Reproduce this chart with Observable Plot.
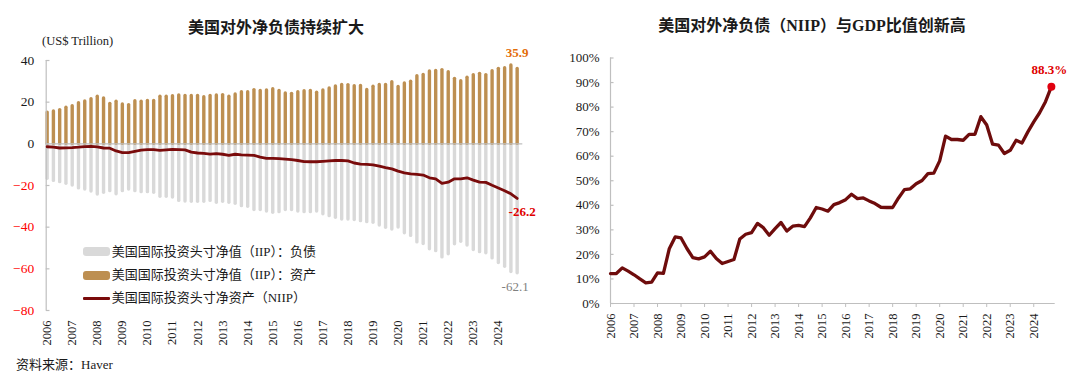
<!DOCTYPE html>
<html><head><meta charset="utf-8">
<script src="https://cdn.jsdelivr.net/npm/d3@7"></script>
<script src="https://cdn.jsdelivr.net/npm/@observablehq/plot@0.6"></script>
<style>
body{margin:0;background:#fff;}
#wrap{position:relative;width:1080px;height:386px;overflow:hidden;font-family:"Liberation Serif","Noto Sans CJK SC",serif;color:#1a1a1a;}
.abs{position:absolute;white-space:nowrap;}
.title{font-size:16px;font-weight:bold;text-align:center;line-height:18px;height:18px;}
.leg{font-size:13px;line-height:16px;height:16px;}
.sw{position:absolute;}
</style></head><body><div id="wrap"></div>
<script>
// ---- data ----
const years = ["2006","2007","2008","2009","2010","2011","2012","2013","2014","2015","2016","2017","2018","2019","2020","2021","2022","2023","2024"];
// quarterly, 2006Q1 - 2024Q4, US$ trillion
const assets = [15.0,15.5,16.2,17.3,18.1,19.5,20.3,21.4,22.6,21.8,19.2,20.2,18.9,18.6,20.5,20.2,20.6,20.6,22.6,22.6,
  22.9,23.2,23.0,23.0,23.0,22.4,23.0,23.2,23.4,22.6,23.7,24.8,24.8,25.8,25.4,25.6,26.2,25.4,24.2,24.0,
  24.8,25.3,25.4,24.5,25.6,26.6,27.5,28.3,28.2,27.7,27.8,25.9,27.4,28.3,28.3,29.6,27.3,29.0,29.8,32.5,
  33.1,34.7,35.0,35.4,34.4,31.2,30.1,31.7,33.0,33.6,33.0,34.9,36.0,36.3,37.6,35.9];
const liabilities = [-16.8,-17.8,-18.4,-19.2,-20.0,-21.4,-21.9,-22.9,-24.3,-23.5,-22.7,-24.2,-22.7,-21.9,-22.7,-23.2,-23.2,-23.5,-25.4,-25.4,
  -25.8,-27.4,-27.7,-27.8,-27.8,-27.8,-27.4,-28.3,-27.8,-28.3,-28.8,-29.9,-30.2,-31.8,-31.8,-32.5,-33.1,-32.8,-31.8,-31.8,
  -32.5,-32.8,-32.8,-32.5,-33.8,-34.7,-35.5,-36.3,-36.3,-36.6,-37.1,-37.6,-37.9,-39.2,-40.3,-41.1,-40.2,-42.9,-44.2,-47.3,
  -48.1,-50.6,-51.5,-54.5,-53.0,-48.2,-47.0,-48.8,-51.0,-52.0,-52.5,-55.0,-57.2,-59.0,-61.5,-62.1];
const niip = [-1.4,-1.6,-2.0,-1.9,-1.8,-1.6,-1.3,-1.2,-1.5,-2.0,-2.1,-3.4,-4.2,-4.2,-3.6,-3.0,-2.8,-2.8,-3.1,-2.9,
  -2.7,-2.8,-2.9,-4.0,-4.4,-4.6,-4.9,-4.7,-5.0,-5.5,-5.0,-5.3,-5.4,-5.5,-6.4,-7.0,-7.0,-7.1,-7.3,-7.6,
  -8.0,-8.5,-8.6,-8.6,-8.4,-8.2,-8.0,-8.0,-8.2,-9.2,-9.7,-9.9,-10.1,-10.7,-11.4,-12.0,-13.1,-13.9,-14.4,-14.7,
  -15.0,-16.3,-16.8,-19.0,-18.4,-16.8,-16.8,-16.3,-17.4,-18.4,-18.5,-19.9,-21.2,-22.5,-24.0,-26.2];
// NIIP / GDP, %
const ratio = [12.2,12.2,14.5,13.2,11.7,10.0,8.4,8.7,12.5,12.3,22.3,27.1,26.7,22.4,18.7,18.2,19.0,21.3,18.3,16.3,
  17.1,17.9,26.3,28.2,28.9,32.6,30.9,27.8,30.5,33.0,29.5,31.5,31.8,31.3,34.9,39.1,38.5,37.6,40.3,41.1,
  42.3,44.5,42.7,43.0,41.8,40.7,39.2,39.1,39.1,43.0,46.4,46.7,48.8,50.1,52.9,53.1,58.1,68.2,66.8,66.8,
  66.5,68.9,68.9,76.1,72.7,64.9,64.5,61.1,62.4,66.5,65.4,69.9,74.0,77.7,82.2,88.3];
const leftTicksPos = [0,20,40];
const leftTicksNeg = [-20,-40,-60,-80];
const pctTicks = [0,10,20,30,40,50,60,70,80,90,100];
const legendLabels = ["美国国际投资头寸净值（IIP）：负债","美国国际投资头寸净值（IIP）：资产","美国国际投资头寸净资产（NIIP）"];
const titleLeft = "美国对外净负债持续扩大";
const titleRight = "美国对外净负债（NIIP）与GDP比值创新高";
const unitLabel = "(US$ Trillion)";
const sourceLabel = "资料来源：Haver";

// ---- colours ----
const cAsset = "#BD8F51", cLiab = "#D9D9D9", cNiip = "#7A0B0B", cRatio = "#6E0C0C", cAxis = "#BFBFBF";

const rowsA = assets.map((v,i)=>({i,v}));
const rowsL = liabilities.map((v,i)=>({i,v}));
const rowsN = niip.map((v,i)=>({i,v}));
const rowsR = ratio.map((v,i)=>({i,v}));
const yearTicks = years.map((_,k)=>k*4);
const last = assets.length-1;

const wrap = document.getElementById("wrap");
function addDiv(cls, text, css){const d=document.createElement("div");d.className="abs "+cls;d.textContent=text;Object.assign(d.style,css);wrap.appendChild(d);return d;}

// ---- left chart ----
const xL0 = -0.15, xL1 = 75.9;
const left = Plot.plot({
  width: 545, height: 386,
  marginLeft: 45.7, marginRight: 22.7, marginTop: 60, marginBottom: 76,
  x: {type: "linear", domain: [xL0, xL1], axis: null},
  y: {domain: [-80, 40], axis: null},
  style: {fontFamily: '"Liberation Serif", serif', background: "transparent", overflow: "visible", color: "#1a1a1a"},
  marks: [
    Plot.ruleX(rowsL, {x: "i", y1: 0, y2: "v", stroke: cLiab, strokeWidth: 3.4, strokeLinecap: "round"}),
    Plot.ruleX(rowsA, {x: "i", y1: 0, y2: "v", stroke: cAsset, strokeWidth: 3.4, strokeLinecap: "round"}),
    Plot.ruleY([0], {x1: xL0, x2: xL1, stroke: cAxis, strokeWidth: 1.2}),
    Plot.ruleX([xL0], {y1: -80, y2: 40, stroke: cAxis, strokeWidth: 1.2}),
    Plot.ruleY([...leftTicksNeg, ...leftTicksPos], {x1: xL0, x2: xL0 + 0.6, stroke: cAxis, strokeWidth: 1.2}),
    Plot.line(rowsN, {x: "i", y: "v", stroke: cNiip, strokeWidth: 2.8, strokeLinejoin: "round"}),
    Plot.axisY({ticks: leftTicksPos, tickSize: 0, tickPadding: 12, fontSize: 13.5, fill: "#1a1a1a", label: null}),
    Plot.axisY({ticks: leftTicksNeg, tickSize: 0, tickPadding: 12, fontSize: 13.5, fill: "#FF0000", label: null}),
    Plot.axisX({ticks: yearTicks, tickFormat: d => years[d/4], tickRotate: -90, tickSize: 0, tickPadding: 10, fontSize: 12.5, fill: "#1a1a1a", label: null}),
    Plot.text([rowsA[last]], {x: "i", y: "v", text: d => d.v.toFixed(1), dy: -16, fontSize: 13, fontWeight: "bold", fill: "#E36C09"}),
    Plot.text([rowsN[last]], {x: "i", y: "v", text: d => d.v.toFixed(1), dx: 5, dy: 13, fontSize: 13, fontWeight: "bold", fill: "#E00000"}),
    Plot.text([rowsL[last]], {x: "i", y: "v", text: d => d.v.toFixed(1), dx: -2, dy: 13.5, fontSize: 13, fill: "#808080"})
  ]
});
Object.assign(left.style, {position: "absolute", left: "0px", top: "0px"});
wrap.appendChild(left);

// ---- right chart ----
const xR1 = 75.65;
const right = Plot.plot({
  width: 540, height: 386,
  marginLeft: 70, marginRight: 25.3, marginTop: 57.5, marginBottom: 83,
  x: {type: "linear", domain: [0, xR1], axis: null},
  y: {domain: [0, 100], axis: null},
  style: {fontFamily: '"Liberation Serif", serif', background: "transparent", overflow: "visible", color: "#1a1a1a"},
  marks: [
    Plot.ruleX([0], {y1: 0, y2: 100, stroke: cAxis, strokeWidth: 1.2}),
    Plot.ruleY(pctTicks, {x1: 0, x2: 0.6, stroke: cAxis, strokeWidth: 1.2}),
    Plot.ruleY([0], {x1: 0, x2: xR1, stroke: cAxis, strokeWidth: 1.2}),
    Plot.axisX({ticks: yearTicks, tickFormat: d => years[d/4], tickRotate: -90, tickSize: 4, tickPadding: 6, fontSize: 12.5, stroke: cAxis, fill: "#1a1a1a", label: null}),
    Plot.axisY({ticks: pctTicks, tickFormat: d => d + "%", tickSize: 0, tickPadding: 11, fontSize: 13, fill: "#1a1a1a", label: null}),
    Plot.line(rowsR, {x: "i", y: "v", stroke: cRatio, strokeWidth: 3.3, strokeLinejoin: "round"}),
    Plot.dot([rowsR[last]], {x: "i", y: "v", r: 4, fill: "#E0000F"}),
    Plot.text([rowsR[last]], {x: "i", y: "v", text: d => d.v.toFixed(1) + "%", dx: -2, dy: -17, fontSize: 13, fontWeight: "bold", fill: "#E00000"})
  ]
});
Object.assign(right.style, {position: "absolute", left: "540px", top: "0px"});
wrap.appendChild(right);

// ---- texts ----
addDiv("title", titleLeft, {left: "126px", width: "300px", top: "19px"});
addDiv("title", titleRight, {left: "612px", width: "400px", top: "17px"});
addDiv("", unitLabel, {left: "42px", top: "34px", fontSize: "12.5px", lineHeight: "15px"});
addDiv("", sourceLabel, {left: "16px", top: "357px", fontSize: "13px", lineHeight: "16px"});

// legend
const legY = [251.7, 275, 298.3];
const legSw = [{bg: cLiab, h: 9}, {bg: cAsset, h: 9}, {bg: cNiip, h: 3}];
legendLabels.forEach((t, k) => {
  const s = document.createElement("div");
  s.className = "sw";
  Object.assign(s.style, {left: "82.7px", width: "27.3px", top: (legY[k] - legSw[k].h/2) + "px", height: legSw[k].h + "px", background: legSw[k].bg, borderRadius: legSw[k].h > 4 ? "3px" : "1px"});
  wrap.appendChild(s);
  addDiv("leg", t, {left: "111.7px", top: (legY[k] - 8) + "px"});
});
</script>
</body></html>
